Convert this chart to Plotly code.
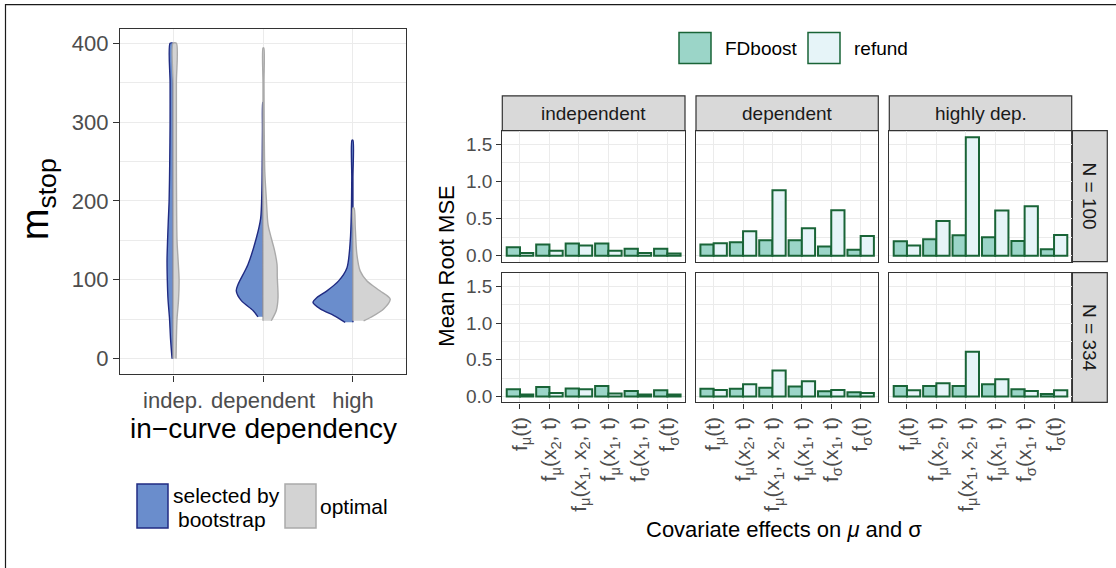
import plotly.graph_objects as go

W, H = 1116, 568
FONT = "Liberation Sans, Arial, sans-serif"


def px(x):
    return x / W


def py(y):
    return 1 - y / H


# ---------------- left panel: split violins (density outlines) -------------
dependency_levels = ["indep.", "dependent", "high"]

indep_boot_y = [0, 25, 50, 75, 100, 125, 150, 175, 200, 250, 300, 350, 400]
indep_boot_w = [0.011, 0.028, 0.039, 0.056, 0.064, 0.067, 0.061, 0.053, 0.044, 0.037, 0.033, 0.033, 0.033]
indep_opt_y = [0, 25, 50, 75, 100, 125, 150, 200, 250, 300, 350, 400]
indep_opt_w = [0.033, 0.037, 0.044, 0.061, 0.067, 0.056, 0.044, 0.039, 0.037, 0.037, 0.037, 0.037]

dep_boot_y = [53, 61, 73.5, 86, 94, 119.5, 153, 178, 210, 245, 290, 325]
dep_boot_w = [0.056, 0.111, 0.241, 0.297, 0.278, 0.167, 0.074, 0.026, 0.013, 0.009, 0.006, 0.003]
dep_opt_y = [48, 61, 77.6, 102.8, 119.5, 136.5, 153, 170, 203, 237, 300, 350, 394]
dep_opt_w = [0.092, 0.148, 0.167, 0.159, 0.156, 0.130, 0.092, 0.056, 0.037, 0.020, 0.013, 0.011, 0.009]

high_boot_y = [46, 54.6, 63, 71.3, 77.6, 86, 98.6, 115, 149, 190, 230, 277]
high_boot_w = [0.086, 0.211, 0.363, 0.444, 0.400, 0.289, 0.159, 0.067, 0.030, 0.017, 0.013, 0.011]
high_opt_y = [48, 52.5, 63, 75.5, 86, 98.6, 111, 132, 165.7, 191]
high_opt_w = [0.119, 0.200, 0.341, 0.414, 0.300, 0.156, 0.081, 0.044, 0.026, 0.013]

# ---------------- right panel: mean root MSE bars -------------
effects = [
    "f<sub>μ</sub>(t)",
    "f<sub>μ</sub>(x<sub>2</sub>, t)",
    "f<sub>μ</sub>(x<sub>1</sub>, x<sub>2</sub>, t)",
    "f<sub>μ</sub>(x<sub>1</sub>, t)",
    "f<sub>σ</sub>(x<sub>1</sub>, t)",
    "f<sub>σ</sub>(t)",
]
col_labels = ["independent", "dependent", "highly dep."]
row_labels = ["N = 100", "N = 334"]

fdboost_n100_indep = [0.116, 0.151, 0.165, 0.165, 0.093, 0.093]
refund_n100_indep = [0.036, 0.067, 0.138, 0.067, 0.036, 0.031]
fdboost_n100_dep = [0.151, 0.182, 0.209, 0.209, 0.125, 0.080]
refund_n100_dep = [0.169, 0.330, 0.881, 0.369, 0.614, 0.267]
fdboost_n100_high = [0.196, 0.223, 0.276, 0.249, 0.200, 0.089]
refund_n100_high = [0.138, 0.467, 1.598, 0.610, 0.668, 0.280]
fdboost_n334_indep = [0.098, 0.129, 0.111, 0.142, 0.076, 0.085]
refund_n334_indep = [0.027, 0.049, 0.098, 0.040, 0.027, 0.027]
fdboost_n334_dep = [0.107, 0.107, 0.120, 0.138, 0.071, 0.058]
refund_n334_dep = [0.089, 0.169, 0.356, 0.209, 0.089, 0.049]
fdboost_n334_high = [0.142, 0.142, 0.142, 0.169, 0.098, 0.036]
refund_n334_high = [0.085, 0.182, 0.610, 0.236, 0.076, 0.085]

BLUE_FILL, BLUE_LINE = "#6A8DCC", "#202B82"
GREY_FILL, GREY_LINE = "#D3D3D3", "#AAAAAA"
FD_FILL, RF_FILL, BAR_LINE = "#9BD5C8", "#E6F4F8", "#196437"
GRID = "#EBEBEB"
AXLINE = "#333333"
TICKTXT = "#4D4D4D"

fig = go.Figure()


def half_violin(center, ys, ws, side, fill, line):
    sign = -1 if side == "left" else 1
    ys = list(ys)
    # outer density edge, then back down along the centre line
    xs = [center + sign * w for w in ws] + [center] * len(ys)
    yy = ys + ys[::-1]
    fig.add_trace(go.Scatter(
        x=xs, y=yy, mode="lines", fill="toself", fillcolor=fill,
        line=dict(color=line, width=1.4, shape="spline", smoothing=0.8),
        xaxis="x", yaxis="y", showlegend=False, hoverinfo="skip"))


violins = [
    (indep_boot_y, indep_boot_w, indep_opt_y, indep_opt_w),
    (dep_boot_y, dep_boot_w, dep_opt_y, dep_opt_w),
    (high_boot_y, high_boot_w, high_opt_y, high_opt_w),
]
for i, (by, bw, oy, ow) in enumerate(violins):
    half_violin(i, by, bw, "left", BLUE_FILL, BLUE_LINE)
    half_violin(i, oy, ow, "right", GREY_FILL, GREY_LINE)

# ---------------- facets -------------
col_dom = [(502.3, 685.0), (696.0, 878.3), (889.3, 1071.7)]
row_dom = [(131.7, 264.0), (275.0, 406.0)]
facet_data = [
    [(fdboost_n100_indep, refund_n100_indep), (fdboost_n100_dep, refund_n100_dep),
     (fdboost_n100_high, refund_n100_high)],
    [(fdboost_n334_indep, refund_n334_indep), (fdboost_n334_dep, refund_n334_dep),
     (fdboost_n334_high, refund_n334_high)],
]
cats = [1, 2, 3, 4, 5, 6]

layout_axes = {}
k = 2
for r in range(2):
    for c in range(3):
        fd, rf = facet_data[r][c]
        xa, ya = f"x{k}", f"y{k}"
        fig.add_trace(go.Bar(x=cats, y=fd, width=0.45, offset=-0.45, marker=dict(
            color=FD_FILL, line=dict(color=BAR_LINE, width=2)), xaxis=xa, yaxis=ya,
            showlegend=False, hoverinfo="skip"))
        fig.add_trace(go.Bar(x=cats, y=rf, width=0.45, offset=0.0, marker=dict(
            color=RF_FILL, line=dict(color=BAR_LINE, width=2)), xaxis=xa, yaxis=ya,
            showlegend=False, hoverinfo="skip"))
        x0, x1 = col_dom[c]
        y0, y1 = row_dom[r]
        bottom = r == 1
        left = c == 0
        layout_axes[f"xaxis{k}"] = dict(
            domain=[px(x0), px(x1)], anchor=ya, range=[0.4, 6.6],
            tickmode="array", tickvals=cats, ticktext=effects if bottom else [""] * 6,
            showticklabels=bottom, tickangle=-90,
            ticks="outside" if bottom else "", ticklen=5, tickwidth=1.2, tickcolor=AXLINE,
            tickfont=dict(size=21, color=TICKTXT, family=FONT),
            showgrid=True, gridcolor=GRID, gridwidth=1.2, zeroline=False,
            showline=True, mirror=True, linecolor=AXLINE, linewidth=1.2)
        layout_axes[f"yaxis{k}"] = dict(
            domain=[py(y1), py(y0)], anchor=xa, range=[-0.08, 1.687],
            tickmode="array", tickvals=[0, 0.5, 1.0, 1.5], ticktext=["0.0", "0.5", "1.0", "1.5"],
            showticklabels=left, ticks="outside" if left else "", ticklen=5, tickwidth=1.2,
            tickcolor=AXLINE, tickfont=dict(size=19, color=TICKTXT, family=FONT),
            showgrid=True, gridcolor=GRID, gridwidth=1.2, zeroline=False,
            minor=dict(tickmode="array", tickvals=[0.25, 0.75, 1.25], showgrid=True,
                       gridcolor=GRID, gridwidth=0.6, ticks=""),
            showline=True, mirror=True, linecolor=AXLINE, linewidth=1.2)
        k += 1

shapes = []
annotations = []

# strips (top)
for c, lab in enumerate(col_labels):
    x0, x1 = col_dom[c]
    shapes.append(dict(type="rect", xref="paper", yref="paper", x0=px(x0), x1=px(x1),
                       y0=py(131.7), y1=py(96.7), fillcolor="#D9D9D9",
                       line=dict(color=AXLINE, width=1.2), layer="below"))
    annotations.append(dict(text=lab, x=px((x0 + x1) / 2), y=py(114.2), xref="paper", yref="paper",
                            showarrow=False, font=dict(size=19, color="#1A1A1A", family=FONT),
                            xanchor="center", yanchor="middle"))
# strips (right)
for r, lab in enumerate(row_labels):
    y0, y1 = row_dom[r]
    shapes.append(dict(type="rect", xref="paper", yref="paper", x0=px(1071.7), x1=px(1107.3),
                       y0=py(y1), y1=py(y0), fillcolor="#D9D9D9",
                       line=dict(color=AXLINE, width=1.2), layer="below"))
    annotations.append(dict(text=lab, x=px(1089.5), y=py((y0 + y1) / 2), xref="paper", yref="paper",
                            showarrow=False, textangle=90,
                            font=dict(size=19, color="#1A1A1A", family=FONT),
                            xanchor="center", yanchor="middle"))

# top-right legend
for x0, fill, lab in [(679, FD_FILL, "FDboost"), (808, RF_FILL, "refund")]:
    shapes.append(dict(type="rect", xref="paper", yref="paper", x0=px(x0), x1=px(x0 + 32),
                       y0=py(64), y1=py(32.7), fillcolor=fill, line=dict(color=BAR_LINE, width=1.5)))
    annotations.append(dict(text=lab, x=px(x0 + 44), y=py(48.5), xref="paper", yref="paper",
                            showarrow=False, font=dict(size=19, color="#000000", family=FONT),
                            xanchor="left", yanchor="middle"))

# bottom-left legend
shapes.append(dict(type="rect", xref="paper", yref="paper", x0=px(137), x1=px(168),
                   y0=py(532.7), y1=py(488.3), fillcolor=BLUE_FILL, line=dict(color=BLUE_LINE, width=1.5)))
shapes.append(dict(type="rect", xref="paper", yref="paper", x0=px(285), x1=px(316),
                   y0=py(532.7), y1=py(488.3), fillcolor=GREY_FILL, line=dict(color=GREY_LINE, width=1.5)))
for txt, xx, yy, anc in [("selected by", 226, 500, "center"), ("bootstrap", 222, 524, "center"),
                         ("optimal", 318, 511, "left")]:
    annotations.append(dict(text=txt, x=px(xx), y=py(yy), xref="paper", yref="paper",
                            showarrow=False, font=dict(size=21, color="#000000", family=FONT),
                            xanchor=anc, yanchor="middle"))

# axis titles
annotations += [
    dict(text="m<sub>stop</sub>", x=px(38), y=py(201), xref="paper", yref="paper", showarrow=False,
         textangle=-90, font=dict(size=38, color="#000000", family=FONT), xanchor="center", yanchor="middle"),
    dict(text="in−curve dependency", x=px(263), y=py(432), xref="paper", yref="paper", showarrow=False,
         font=dict(size=28, color="#000000", family=FONT), xanchor="center", yanchor="middle"),
    dict(text="Mean Root MSE", x=px(447), y=py(269), xref="paper", yref="paper", showarrow=False,
         textangle=-90, font=dict(size=22, color="#000000", family=FONT), xanchor="center", yanchor="middle"),
    dict(text="Covariate effects on <i>μ</i> and σ", x=px(784), y=py(534), xref="paper", yref="paper",
         showarrow=False, font=dict(size=22, color="#000000", family=FONT), xanchor="center", yanchor="middle"),
]

# outer figure border (left and top edges visible)
shapes.append(dict(type="rect", xref="paper", yref="paper", x0=px(5.5), x1=1.05, y0=-0.05, y1=py(4.7),
                   line=dict(color="#1A1A1A", width=1.2), fillcolor="rgba(0,0,0,0)"))

fig.update_layout(
    width=W, height=H, margin=dict(l=0, r=0, t=0, b=0),
    paper_bgcolor="white", plot_bgcolor="white", showlegend=False,
    font=dict(family=FONT),
    xaxis=dict(domain=[px(120), px(406)], anchor="y", range=[-0.59, 2.59],
               tickmode="array", tickvals=[0, 1, 2], ticktext=dependency_levels,
               ticks="outside", ticklen=6, tickwidth=1.3, tickcolor=AXLINE,
               tickfont=dict(size=22, color=TICKTXT, family=FONT),
               showgrid=True, gridcolor=GRID, gridwidth=1.3, zeroline=False,
               showline=True, mirror=True, linecolor=AXLINE, linewidth=1.4),
    yaxis=dict(domain=[py(377.7), py(29)], anchor="x", range=[-20, 418.5],
               tickmode="array", tickvals=[0, 100, 200, 300, 400],
               ticks="outside", ticklen=6, tickwidth=1.3, tickcolor=AXLINE,
               tickfont=dict(size=22, color=TICKTXT, family=FONT),
               showgrid=True, gridcolor=GRID, gridwidth=1.3, zeroline=False,
               minor=dict(tickmode="array", tickvals=[50, 150, 250, 350], showgrid=True,
                          gridcolor=GRID, gridwidth=0.7, ticks=""),
               showline=True, mirror=True, linecolor=AXLINE, linewidth=1.4),
    shapes=shapes, annotations=annotations,
    **layout_axes,
)

fig.write_html("out.html")
